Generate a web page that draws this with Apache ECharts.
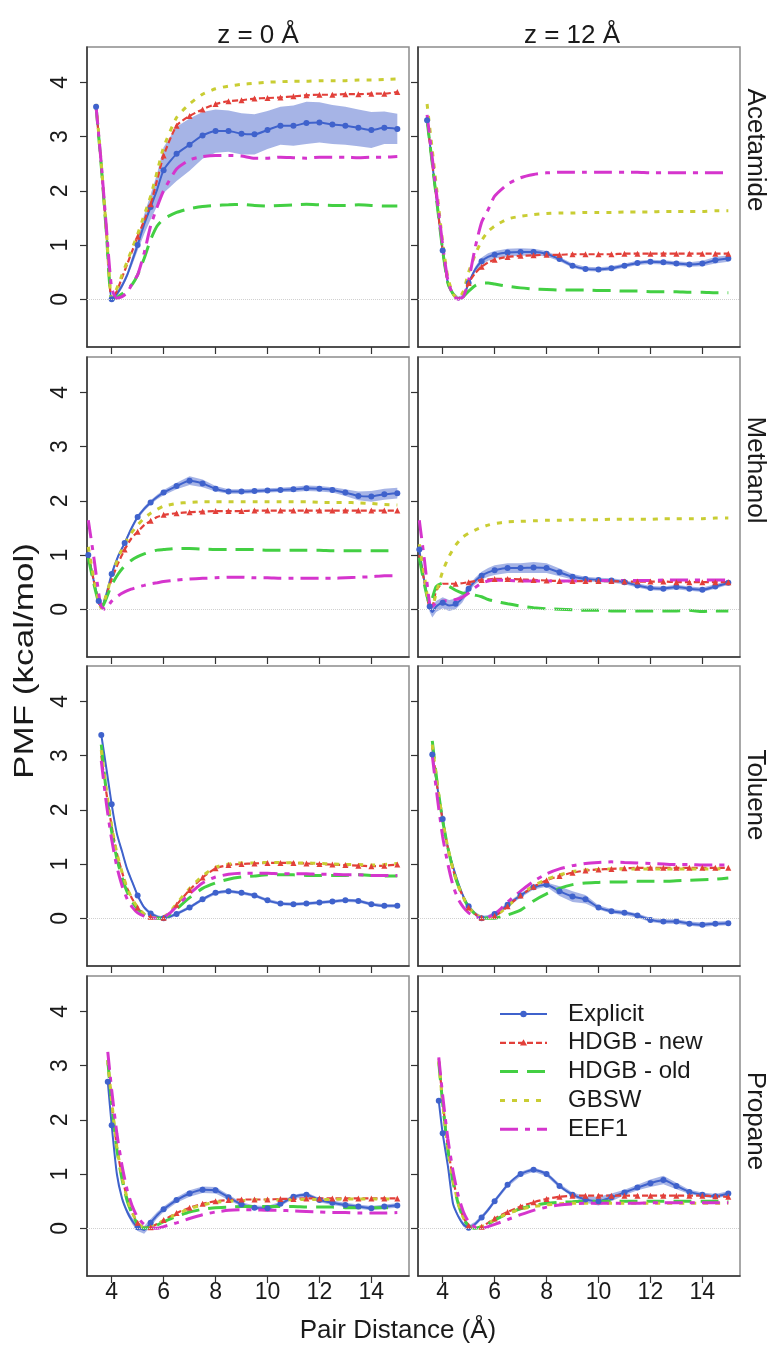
<!DOCTYPE html>
<html>
<head>
<meta charset="utf-8">
<script src="https://cdn.jsdelivr.net/npm/echarts@6/dist/echarts.min.js"></script>
<style>
  html, body { margin: 0; padding: 0; background: #fff; }
  #chart { width: 773px; height: 1349px; }
</style>
</head>
<body>
<div id="chart"></div>
<script>
// Pair distances (Å) sampled for each solute
const distAcetamide = [3.4, 3.6, 3.8, 4.0, 4.2, 4.4, 4.6, 4.8, 5.0, 5.25, 5.5, 5.75, 6.0, 6.5, 7.0, 7.5, 8.0, 8.5, 9.0, 9.5, 10.0, 10.5, 11.0, 11.5, 12.0, 12.5, 13.0, 13.5, 14.0, 14.5, 15.0];
const distMethanol  = [3.1, 3.3, 3.5, 3.6, 3.75, 4.0, 4.25, 4.5, 4.75, 5.0, 5.25, 5.5, 5.75, 6.0, 6.5, 7.0, 7.5, 8.0, 8.5, 9.0, 9.5, 10.0, 10.5, 11.0, 11.5, 12.0, 12.5, 13.0, 13.5, 14.0, 14.5, 15.0];
const distToluene   = [3.6, 3.8, 4.0, 4.2, 4.4, 4.6, 4.8, 5.0, 5.25, 5.5, 5.75, 6.0, 6.25, 6.5, 7.0, 7.5, 8.0, 8.5, 9.0, 9.5, 10.0, 10.5, 11.0, 11.5, 12.0, 12.5, 13.0, 13.5, 14.0, 14.5, 15.0];
const distPropane   = [3.85, 4.0, 4.2, 4.4, 4.6, 4.8, 5.0, 5.25, 5.5, 5.75, 6.0, 6.5, 7.0, 7.5, 8.0, 8.5, 9.0, 9.5, 10.0, 10.5, 11.0, 11.5, 12.0, 12.5, 13.0, 13.5, 14.0, 14.5, 15.0];

// PMF (kcal/mol) — Acetamide, z = 0 Å
const acet0Explicit = [3.55, 2.5, 1.25, 0.0, 0.1, 0.25, 0.45, 0.72, 1.0, 1.38, 1.7, 2.02, 2.38, 2.68, 2.85, 3.02, 3.1, 3.1, 3.05, 3.04, 3.12, 3.2, 3.2, 3.25, 3.26, 3.22, 3.2, 3.16, 3.12, 3.16, 3.14];
const acet0Err      = [0.05, 0.05, 0.05, 0.05, 0.05, 0.05, 0.05, 0.08, 0.1, 0.18, 0.23, 0.3, 0.42, 0.5, 0.48, 0.43, 0.4, 0.38, 0.38, 0.37, 0.35, 0.35, 0.37, 0.39, 0.37, 0.36, 0.35, 0.34, 0.33, 0.3, 0.28];
const acet0New      = [3.55, 2.45, 1.2, 0.0, 0.15, 0.4, 0.65, 0.9, 1.15, 1.45, 1.75, 2.2, 2.65, 3.2, 3.38, 3.5, 3.6, 3.65, 3.67, 3.7, 3.71, 3.72, 3.74, 3.76, 3.77, 3.77, 3.78, 3.78, 3.79, 3.79, 3.82];
const acet0Old      = [3.55, 2.45, 1.2, 0.0, 0.03, 0.1, 0.18, 0.28, 0.45, 0.75, 1.1, 1.35, 1.48, 1.6, 1.67, 1.71, 1.73, 1.74, 1.75, 1.73, 1.72, 1.73, 1.74, 1.75, 1.74, 1.73, 1.73, 1.74, 1.73, 1.72, 1.72];
const acet0Gbsw     = [3.6, 2.5, 1.25, 0.02, 0.2, 0.45, 0.7, 0.95, 1.2, 1.55, 1.9, 2.35, 2.8, 3.35, 3.6, 3.78, 3.88, 3.93, 3.96, 3.98, 4.0, 4.01, 4.02, 4.02, 4.03, 4.03, 4.03, 4.04, 4.04, 4.05, 4.06];
const acet0Eef1     = [3.55, 2.5, 1.3, 0.2, 0.02, 0.05, 0.12, 0.3, 0.45, 0.85, 1.35, 1.7, 2.0, 2.4, 2.57, 2.63, 2.65, 2.65, 2.64, 2.6, 2.6, 2.62, 2.61, 2.6, 2.62, 2.62, 2.62, 2.61, 2.62, 2.62, 2.63];

// Acetamide, z = 12 Å
const acet12Explicit = [3.3, 2.5, 1.7, 0.9, 0.3, 0.1, 0.01, 0.05, 0.3, 0.55, 0.7, 0.78, 0.82, 0.86, 0.87, 0.87, 0.84, 0.74, 0.62, 0.56, 0.55, 0.57, 0.62, 0.67, 0.69, 0.68, 0.66, 0.64, 0.66, 0.72, 0.75];
const acet12Err      = [0.04, 0.04, 0.04, 0.04, 0.04, 0.04, 0.04, 0.04, 0.04, 0.05, 0.07, 0.07, 0.07, 0.07, 0.07, 0.06, 0.05, 0.04, 0.04, 0.04, 0.04, 0.04, 0.04, 0.04, 0.04, 0.04, 0.04, 0.04, 0.05, 0.06, 0.06];
const acet12New      = [3.3, 2.5, 1.7, 0.9, 0.3, 0.1, 0.01, 0.08, 0.3, 0.48, 0.6, 0.68, 0.73, 0.78, 0.8, 0.81, 0.82, 0.82, 0.83, 0.83, 0.83, 0.83, 0.84, 0.84, 0.84, 0.84, 0.84, 0.84, 0.84, 0.84, 0.84];
const acet12Old      = [3.3, 2.5, 1.7, 0.9, 0.3, 0.1, 0.0, 0.05, 0.15, 0.25, 0.3, 0.3, 0.28, 0.24, 0.21, 0.19, 0.18, 0.17, 0.17, 0.17, 0.16, 0.16, 0.15, 0.15, 0.14, 0.14, 0.14, 0.13, 0.13, 0.12, 0.12];
const acet12Gbsw     = [3.6, 2.75, 1.9, 1.05, 0.4, 0.1, 0.01, 0.15, 0.5, 0.82, 1.08, 1.25, 1.35, 1.48, 1.53, 1.56, 1.58, 1.59, 1.59, 1.6, 1.6, 1.6, 1.61, 1.61, 1.61, 1.62, 1.62, 1.62, 1.62, 1.63, 1.63];
const acet12Eef1     = [3.4, 2.6, 1.8, 1.0, 0.35, 0.08, 0.0, 0.05, 0.35, 0.95, 1.42, 1.65, 1.9, 2.12, 2.24, 2.3, 2.33, 2.34, 2.34, 2.34, 2.34, 2.34, 2.34, 2.34, 2.33, 2.33, 2.33, 2.33, 2.33, 2.33, 2.33];

// Methanol, z = 0 Å
const meth0Explicit = [1.0, 0.55, 0.15, 0.02, 0.2, 0.65, 0.98, 1.22, 1.48, 1.7, 1.85, 1.97, 2.07, 2.15, 2.27, 2.37, 2.32, 2.22, 2.17, 2.17, 2.18, 2.19, 2.2, 2.21, 2.23, 2.22, 2.2, 2.15, 2.09, 2.08, 2.12, 2.14];
const meth0Err      = [0.04, 0.04, 0.04, 0.04, 0.04, 0.04, 0.04, 0.04, 0.04, 0.04, 0.04, 0.04, 0.04, 0.05, 0.06, 0.08, 0.07, 0.05, 0.04, 0.04, 0.04, 0.04, 0.04, 0.05, 0.05, 0.05, 0.05, 0.06, 0.08, 0.1, 0.1, 0.1];
const meth0New      = [1.0, 0.55, 0.12, 0.02, 0.2, 0.55, 0.85, 1.1, 1.3, 1.43, 1.55, 1.63, 1.7, 1.74, 1.77, 1.79, 1.8, 1.81, 1.81, 1.81, 1.82, 1.82, 1.82, 1.82, 1.82, 1.82, 1.82, 1.82, 1.82, 1.82, 1.82, 1.82];
const meth0Old      = [0.95, 0.5, 0.12, 0.02, 0.15, 0.45, 0.65, 0.8, 0.9, 0.97, 1.02, 1.06, 1.09, 1.1, 1.12, 1.12, 1.11, 1.1, 1.1, 1.1, 1.1, 1.09, 1.09, 1.09, 1.09, 1.09, 1.08, 1.08, 1.08, 1.08, 1.08, 1.08];
const meth0Gbsw     = [1.15, 0.6, 0.15, 0.02, 0.2, 0.6, 0.95, 1.2, 1.4, 1.55, 1.68, 1.77, 1.84, 1.9, 1.95, 1.97, 1.98, 1.98, 1.98, 1.98, 1.98, 1.98, 1.98, 1.98, 1.98, 1.97, 1.97, 1.97, 1.96, 1.95, 1.93, 1.92];
const meth0Eef1     = [1.64, 1.0, 0.3, 0.05, 0.0, 0.15, 0.25, 0.32, 0.37, 0.41, 0.44, 0.47, 0.49, 0.51, 0.54, 0.56, 0.57, 0.58, 0.59, 0.59, 0.58, 0.58, 0.57, 0.57, 0.57, 0.57, 0.57, 0.58, 0.59, 0.6, 0.62, 0.62];

// Methanol, z = 12 Å
const meth12Explicit = [1.1, 0.5, 0.05, -0.05, 0.05, 0.12, 0.07, 0.1, 0.2, 0.38, 0.52, 0.62, 0.68, 0.72, 0.76, 0.76, 0.77, 0.76, 0.68, 0.6, 0.56, 0.54, 0.53, 0.5, 0.44, 0.39, 0.38, 0.41, 0.38, 0.36, 0.42, 0.49];
const meth12Err      = [0.04, 0.06, 0.1, 0.1, 0.1, 0.1, 0.1, 0.1, 0.08, 0.06, 0.06, 0.07, 0.08, 0.09, 0.09, 0.09, 0.1, 0.09, 0.07, 0.05, 0.04, 0.04, 0.04, 0.04, 0.04, 0.04, 0.04, 0.04, 0.04, 0.04, 0.04, 0.04];
const meth12New      = [1.0, 0.5, 0.05, 0.05, 0.35, 0.47, 0.47, 0.47, 0.48, 0.5, 0.52, 0.54, 0.55, 0.56, 0.56, 0.55, 0.54, 0.53, 0.52, 0.52, 0.52, 0.52, 0.52, 0.51, 0.51, 0.51, 0.51, 0.5, 0.5, 0.5, 0.5, 0.5];
const meth12Old      = [0.95, 0.45, 0.1, 0.2, 0.42, 0.48, 0.42, 0.35, 0.3, 0.28, 0.26, 0.23, 0.18, 0.15, 0.1, 0.06, 0.03, 0.01, 0.0, -0.01, -0.02, -0.02, -0.03, -0.03, -0.03, -0.03, -0.03, -0.03, -0.02, -0.04, -0.03, -0.03];
const meth12Gbsw     = [1.2, 0.6, 0.05, 0.05, 0.3, 0.7, 0.98, 1.18, 1.32, 1.4, 1.46, 1.51, 1.55, 1.58, 1.61, 1.62, 1.63, 1.64, 1.64, 1.65, 1.65, 1.65, 1.66, 1.66, 1.66, 1.66, 1.67, 1.67, 1.67, 1.67, 1.68, 1.68];
const meth12Eef1     = [1.64, 0.9, 0.1, 0.05, 0.12, 0.15, 0.16, 0.18, 0.22, 0.3, 0.4, 0.48, 0.52, 0.54, 0.53, 0.52, 0.52, 0.52, 0.52, 0.52, 0.53, 0.53, 0.53, 0.53, 0.53, 0.53, 0.54, 0.54, 0.54, 0.54, 0.54, 0.54];

// Toluene, z = 0 Å
const tol0Explicit = [3.38, 2.75, 2.1, 1.56, 1.23, 0.9, 0.66, 0.42, 0.2, 0.09, 0.03, 0.0, 0.03, 0.08, 0.2, 0.35, 0.47, 0.5, 0.47, 0.42, 0.33, 0.27, 0.26, 0.27, 0.29, 0.31, 0.33, 0.32, 0.26, 0.23, 0.23];
const tol0Err      = [0.03, 0.03, 0.03, 0.03, 0.03, 0.03, 0.03, 0.03, 0.03, 0.03, 0.03, 0.03, 0.03, 0.03, 0.03, 0.03, 0.03, 0.03, 0.03, 0.03, 0.03, 0.03, 0.03, 0.03, 0.03, 0.03, 0.03, 0.03, 0.03, 0.03, 0.03];
const tol0New      = [3.0, 2.3, 1.7, 1.2, 0.85, 0.55, 0.35, 0.2, 0.08, 0.03, 0.0, 0.01, 0.1, 0.25, 0.52, 0.75, 0.92, 0.98, 1.0, 1.01, 1.02, 1.02, 1.02, 1.01, 1.0, 0.99, 0.98, 0.97, 0.96, 0.97, 0.99];
const tol0Old      = [3.2, 2.3, 1.6, 1.1, 0.75, 0.48, 0.3, 0.17, 0.07, 0.02, 0.0, 0.01, 0.07, 0.17, 0.38, 0.55, 0.65, 0.72, 0.76, 0.78, 0.8, 0.8, 0.8, 0.79, 0.79, 0.79, 0.79, 0.8, 0.79, 0.78, 0.78];
const tol0Gbsw     = [3.1, 2.35, 1.7, 1.2, 0.85, 0.55, 0.35, 0.2, 0.08, 0.03, 0.0, 0.02, 0.12, 0.27, 0.55, 0.78, 0.94, 1.0, 1.02, 1.02, 1.03, 1.03, 1.02, 1.02, 1.01, 1.0, 0.99, 0.99, 0.98, 0.99, 1.01];
const tol0Eef1     = [2.9, 2.1, 1.45, 0.95, 0.6, 0.35, 0.2, 0.1, 0.04, 0.01, 0.0, 0.02, 0.1, 0.22, 0.45, 0.65, 0.76, 0.81, 0.83, 0.83, 0.83, 0.82, 0.82, 0.82, 0.81, 0.81, 0.8, 0.8, 0.79, 0.79, 0.79];

// Toluene, z = 12 Å
const tol12Explicit = [3.02, 2.4, 1.83, 1.3, 0.95, 0.65, 0.4, 0.22, 0.08, 0.0, 0.02, 0.08, 0.15, 0.25, 0.42, 0.57, 0.62, 0.5, 0.4, 0.35, 0.2, 0.13, 0.1, 0.05, -0.03, -0.06, -0.06, -0.1, -0.12, -0.1, -0.09];
const tol12Err      = [0.04, 0.04, 0.04, 0.04, 0.04, 0.04, 0.04, 0.04, 0.04, 0.04, 0.04, 0.04, 0.04, 0.04, 0.04, 0.04, 0.04, 0.09, 0.1, 0.08, 0.04, 0.04, 0.04, 0.04, 0.04, 0.04, 0.04, 0.04, 0.04, 0.04, 0.04];
const tol12New      = [3.15, 2.4, 1.8, 1.3, 0.9, 0.6, 0.38, 0.2, 0.08, 0.01, 0.0, 0.04, 0.12, 0.22, 0.42, 0.58, 0.7, 0.78, 0.84, 0.88, 0.9, 0.91, 0.92, 0.93, 0.93, 0.93, 0.93, 0.93, 0.93, 0.93, 0.93];
const tol12Old      = [3.27, 2.45, 1.8, 1.3, 0.9, 0.6, 0.38, 0.2, 0.08, 0.01, 0.0, 0.0, 0.03, 0.06, 0.15, 0.32, 0.45, 0.55, 0.62, 0.65, 0.66, 0.67, 0.67, 0.68, 0.68, 0.68, 0.69, 0.7, 0.71, 0.72, 0.74];
const tol12Gbsw     = [3.2, 2.45, 1.8, 1.3, 0.9, 0.6, 0.38, 0.2, 0.08, 0.01, 0.0, 0.04, 0.12, 0.22, 0.43, 0.6, 0.72, 0.8, 0.86, 0.89, 0.9, 0.91, 0.91, 0.91, 0.91, 0.91, 0.91, 0.91, 0.91, 0.91, 0.92];
const tol12Eef1     = [3.0, 2.2, 1.5, 1.0, 0.6, 0.35, 0.2, 0.1, 0.03, 0.0, 0.02, 0.08, 0.18, 0.3, 0.5, 0.68, 0.82, 0.91, 0.97, 1.01, 1.03, 1.04, 1.03, 1.02, 1.01, 1.0, 0.99, 0.99, 0.98, 0.98, 0.98];

// Propane, z = 0 Å
const prop0Explicit = [2.7, 1.9, 1.0, 0.55, 0.3, 0.13, 0.02, -0.03, 0.1, 0.24, 0.35, 0.52, 0.64, 0.71, 0.7, 0.57, 0.44, 0.38, 0.37, 0.45, 0.58, 0.62, 0.52, 0.47, 0.43, 0.4, 0.37, 0.4, 0.42];
const prop0Err      = [0.04, 0.04, 0.04, 0.04, 0.05, 0.06, 0.07, 0.07, 0.07, 0.06, 0.05, 0.05, 0.06, 0.06, 0.06, 0.05, 0.04, 0.04, 0.04, 0.04, 0.04, 0.04, 0.04, 0.04, 0.04, 0.04, 0.04, 0.04, 0.04];
const prop0New      = [3.05, 2.3, 1.5, 0.95, 0.55, 0.28, 0.1, 0.01, 0.02, 0.08, 0.15, 0.28, 0.38, 0.45, 0.5, 0.52, 0.53, 0.53, 0.53, 0.54, 0.54, 0.55, 0.55, 0.55, 0.55, 0.55, 0.55, 0.55, 0.55];
const prop0Old      = [3.1, 2.3, 1.45, 0.9, 0.5, 0.25, 0.08, 0.0, 0.02, 0.06, 0.12, 0.22, 0.3, 0.35, 0.38, 0.39, 0.4, 0.4, 0.4, 0.4, 0.4, 0.39, 0.39, 0.39, 0.38, 0.38, 0.38, 0.38, 0.38];
const prop0Gbsw     = [3.1, 2.35, 1.5, 0.95, 0.55, 0.28, 0.1, 0.01, 0.02, 0.08, 0.14, 0.26, 0.36, 0.43, 0.48, 0.5, 0.51, 0.52, 0.52, 0.52, 0.53, 0.53, 0.53, 0.53, 0.54, 0.54, 0.54, 0.54, 0.54];
const prop0Eef1     = [3.25, 2.55, 1.75, 1.15, 0.7, 0.4, 0.2, 0.07, 0.01, 0.0, 0.03, 0.1, 0.18, 0.25, 0.3, 0.33, 0.34, 0.34, 0.33, 0.33, 0.32, 0.31, 0.3, 0.29, 0.29, 0.28, 0.28, 0.28, 0.29];

// Propane, z = 12 Å
const prop12Explicit = [2.35, 1.75, 1.15, 0.45, 0.22, 0.07, 0.01, 0.08, 0.2, 0.34, 0.5, 0.8, 1.0, 1.08, 1.0, 0.78, 0.62, 0.53, 0.5, 0.57, 0.66, 0.75, 0.83, 0.89, 0.78, 0.67, 0.62, 0.59, 0.64];
const prop12Err      = [0.04, 0.04, 0.04, 0.04, 0.04, 0.04, 0.04, 0.04, 0.04, 0.04, 0.04, 0.04, 0.04, 0.04, 0.04, 0.04, 0.04, 0.06, 0.08, 0.07, 0.05, 0.05, 0.07, 0.08, 0.06, 0.04, 0.04, 0.04, 0.04];
const prop12New      = [3.12, 2.35, 1.5, 0.9, 0.48, 0.2, 0.05, 0.0, 0.03, 0.1, 0.18, 0.3, 0.4, 0.48, 0.54, 0.58, 0.6, 0.6, 0.6, 0.6, 0.6, 0.6, 0.6, 0.6, 0.6, 0.6, 0.6, 0.59, 0.58];
const prop12Old      = [3.06, 2.3, 1.45, 0.85, 0.45, 0.18, 0.04, 0.0, 0.03, 0.08, 0.15, 0.27, 0.36, 0.42, 0.46, 0.48, 0.49, 0.5, 0.5, 0.5, 0.5, 0.5, 0.5, 0.5, 0.5, 0.5, 0.5, 0.5, 0.5];
const prop12Gbsw     = [3.08, 2.3, 1.48, 0.88, 0.46, 0.19, 0.05, 0.0, 0.03, 0.09, 0.16, 0.27, 0.35, 0.4, 0.43, 0.45, 0.46, 0.46, 0.46, 0.46, 0.46, 0.46, 0.46, 0.46, 0.46, 0.46, 0.46, 0.46, 0.46];
const prop12Eef1     = [3.15, 2.45, 1.65, 1.05, 0.6, 0.3, 0.12, 0.02, 0.0, 0.03, 0.07, 0.16, 0.25, 0.33, 0.39, 0.43, 0.45, 0.46, 0.46, 0.46, 0.46, 0.46, 0.47, 0.47, 0.47, 0.47, 0.47, 0.47, 0.47];

// Labels
const columnTitles = ['z = 0 Å', 'z = 12 Å'];
const solutes = ['Acetamide', 'Methanol', 'Toluene', 'Propane'];
const methodNames = ['Explicit', 'HDGB - new', 'HDGB - old', 'GBSW', 'EEF1'];
const xTicks = [4, 6, 8, 10, 12, 14];
const yTicks = [0, 1, 2, 3, 4];

// Panels, row by row (left: z = 0, right: z = 12)
const panels = [
  { dist: distAcetamide, explicit: acet0Explicit, err: acet0Err, lines: [acet0New, acet0Old, acet0Gbsw, acet0Eef1] },
  { dist: distAcetamide, explicit: acet12Explicit, err: acet12Err, lines: [acet12New, acet12Old, acet12Gbsw, acet12Eef1] },
  { dist: distMethanol, explicit: meth0Explicit, err: meth0Err, lines: [meth0New, meth0Old, meth0Gbsw, meth0Eef1] },
  { dist: distMethanol, explicit: meth12Explicit, err: meth12Err, lines: [meth12New, meth12Old, meth12Gbsw, meth12Eef1] },
  { dist: distToluene, explicit: tol0Explicit, err: tol0Err, lines: [tol0New, tol0Old, tol0Gbsw, tol0Eef1] },
  { dist: distToluene, explicit: tol12Explicit, err: tol12Err, lines: [tol12New, tol12Old, tol12Gbsw, tol12Eef1] },
  { dist: distPropane, explicit: prop0Explicit, err: prop0Err, lines: [prop0New, prop0Old, prop0Gbsw, prop0Eef1] },
  { dist: distPropane, explicit: prop12Explicit, err: prop12Err, lines: [prop12New, prop12Old, prop12Gbsw, prop12Eef1] }
];

const FONT = '"Liberation Sans", Arial, Helvetica, sans-serif';
const TEXT = '#1a1a1a';
const BLUE = '#3f62cc';
const BAND = 'rgba(92, 118, 210, 0.55)';
const explicitStyle = { color: BLUE, width: 2, type: 'solid', symbol: 'circle', size: 6 };
const methodStyles = [
  { color: '#e2403a', width: 2.2, type: [6, 3], symbol: 'triangle', size: 6 },
  { color: '#43cf43', width: 3, type: [18, 9], symbol: 'none', size: 0 },
  { color: '#c9cd33', width: 3, type: [5, 7], symbol: 'none', size: 0 },
  { color: '#d535cd', width: 3, type: [18, 7, 5, 7], symbol: 'none', size: 0 }
];

// markers on the half-ångström points (and the first sampled distance)
const onHalfStep = v => Math.abs(v[0] * 2 - Math.round(v[0] * 2)) < 1e-6;

const panelTops = [47, 357, 666, 976];
const panelLefts = [87, 418];
const PANEL_W = 322, PANEL_H = 300;

const grids = [], xAxes = [], yAxes = [], series = [];

panels.forEach((p, i) => {
  const row = Math.floor(i / 2), col = i % 2;
  grids.push({
    left: panelLefts[col], top: panelTops[row], width: PANEL_W, height: PANEL_H,
    show: true, borderColor: '#8c8c8c', borderWidth: 1.5, backgroundColor: 'transparent'
  });
  xAxes.push({
    type: 'value', gridIndex: i, min: 3.05, max: 15.45,
    axisLine: { show: true, onZero: false, lineStyle: { color: '#333', width: 1.5 } },
    axisTick: { show: true, customValues: xTicks, length: 7, lineStyle: { color: '#333', width: 1.2 } },
    axisLabel: { show: row === 3, customValues: xTicks, fontSize: 23, fontFamily: FONT, color: TEXT, margin: 5 },
    splitLine: { show: false }
  });
  yAxes.push({
    type: 'value', gridIndex: i, min: -0.88, max: 4.65,
    axisLine: { show: true, onZero: false, lineStyle: { color: '#333', width: 1.5 } },
    axisTick: { show: true, customValues: yTicks, length: 7, lineStyle: { color: '#333', width: 1.2 } },
    axisLabel: { show: col === 0, customValues: yTicks, rotate: 90, fontSize: 23, fontFamily: FONT, color: TEXT, margin: 15 },
    splitLine: { show: false }
  });

  const xs = p.dist;
  const pts = ys => xs.map((x, k) => [x, ys[k]]);
  const common = { xAxisIndex: i, yAxisIndex: i, animation: false, emphasis: { disabled: true } };

  // shaded spread of the explicit-solvent profile: one polygon through mean ± spread
  series.push(Object.assign({}, common, {
    type: 'custom', name: 'Explicit spread', silent: true, z: 1,
    data: xs.map((x, k) => [x, p.explicit[k] - p.err[k], p.explicit[k] + p.err[k]]),
    encode: { x: 0, y: [1, 2] },
    renderItem: (params, api) => {
      if (params.dataIndex !== 0) return null;
      const upper = xs.map((x, k) => api.coord([x, p.explicit[k] + p.err[k]]));
      const lower = xs.map((x, k) => api.coord([x, p.explicit[k] - p.err[k]])).reverse();
      return { type: 'polygon', shape: { points: upper.concat(lower) }, style: { fill: BAND } };
    }
  }));

  // explicit-solvent mean, with the dotted zero reference
  series.push(Object.assign({}, common, {
    type: 'line', name: 'Explicit', data: pts(p.explicit), smooth: 0.2, z: 3,
    symbol: (v, params) => (onHalfStep(v) || params.dataIndex === 0 ? 'circle' : 'none'),
    symbolSize: 6, showAllSymbol: true,
    itemStyle: { color: BLUE }, lineStyle: { color: BLUE, width: 2 },
    markLine: {
      silent: true, symbol: 'none', label: { show: false }, animation: false,
      lineStyle: { color: '#d0d0d0', type: 'dotted', width: 1 },
      data: [{ yAxis: 0 }]
    }
  }));

  // implicit-solvent models
  p.lines.forEach((ys, m) => {
    const st = methodStyles[m];
    series.push(Object.assign({}, common, {
      type: 'line', name: methodNames[m + 1], data: pts(ys), smooth: 0.2, z: 3,
      symbol: st.symbol === 'none' ? 'none' : (v => (onHalfStep(v) && v[0] >= 4.5 ? st.symbol : 'none')),
      symbolSize: st.size, showAllSymbol: true,
      itemStyle: { color: st.color },
      lineStyle: { color: st.color, width: st.width, type: st.type }
    }));
  });
});

// Column titles, solute strip labels, axis titles
const graphics = [];
graphics.push({ type: 'text', x: 258, y: 36, style: { text: columnTitles[0], fontSize: 26, fontFamily: FONT, fill: TEXT, align: 'center', verticalAlign: 'middle' } });
graphics.push({ type: 'text', x: 572, y: 36, style: { text: columnTitles[1], fontSize: 26, fontFamily: FONT, fill: TEXT, align: 'center', verticalAlign: 'middle' } });
const stripCenters = [150, 470, 795, 1121];
solutes.forEach((s, r) => {
  graphics.push({ type: 'text', x: 755, y: stripCenters[r], rotation: -Math.PI / 2,
    style: { text: s, fontSize: 26, fontFamily: FONT, fill: TEXT, align: 'center', verticalAlign: 'middle' } });
});
graphics.push({ type: 'text', x: 26, y: 661, rotation: Math.PI / 2, scaleX: 1.3,
  style: { text: 'PMF (kcal/mol)', fontSize: 27, fontFamily: FONT, fill: TEXT, align: 'center', verticalAlign: 'middle' } });
graphics.push({ type: 'text', x: 398, y: 1331,
  style: { text: 'Pair Distance (Å)', fontSize: 26, fontFamily: FONT, fill: TEXT, align: 'center', verticalAlign: 'middle' } });

// Key, inside the lower-right panel
const keyStyles = [explicitStyle].concat(methodStyles);
const KEY_X0 = 500, KEY_X1 = 547, KEY_TEXT_X = 568, KEY_Y0 = 1014, KEY_STEP = 28.8;
methodNames.forEach((name, m) => {
  const st = keyStyles[m];
  const cy = KEY_Y0 + m * KEY_STEP;
  const cx = (KEY_X0 + KEY_X1) / 2;
  graphics.push({ type: 'line', z: 10, shape: { x1: KEY_X0, y1: cy, x2: KEY_X1, y2: cy },
    style: { stroke: st.color, lineWidth: st.width, lineDash: st.type === 'solid' ? null : st.type } });
  if (st.symbol === 'circle') {
    graphics.push({ type: 'circle', z: 11, shape: { cx: cx, cy: cy, r: 3.2 }, style: { fill: st.color } });
  } else if (st.symbol === 'triangle') {
    graphics.push({ type: 'polygon', z: 11, shape: { points: [[cx, cy - 3.5], [cx - 3.5, cy + 2.8], [cx + 3.5, cy + 2.8]] }, style: { fill: st.color } });
  }
  graphics.push({ type: 'text', z: 11, x: KEY_TEXT_X, y: cy,
    style: { text: name, fontSize: 24, fontFamily: FONT, fill: TEXT, align: 'left', verticalAlign: 'middle' } });
});

const chart = echarts.init(document.getElementById('chart'), null, { renderer: 'canvas' });
chart.setOption({
  animation: false,
  backgroundColor: '#ffffff',
  grid: grids,
  xAxis: xAxes,
  yAxis: yAxes,
  graphic: graphics,
  series: series
});
</script>
</body>
</html>
